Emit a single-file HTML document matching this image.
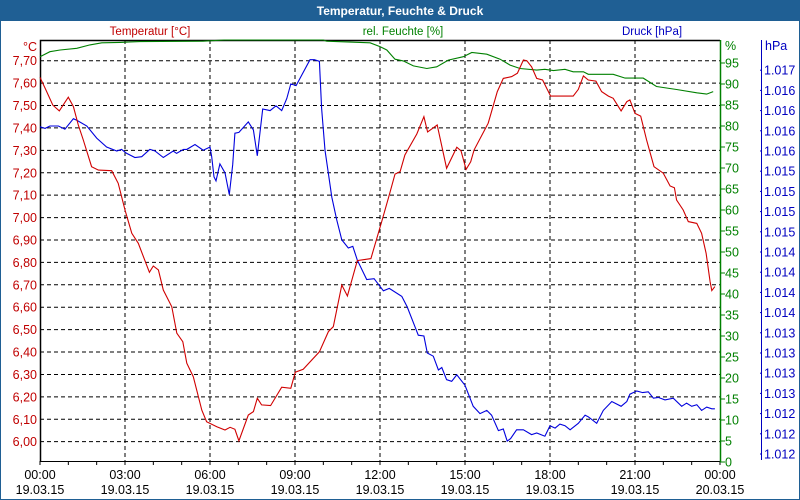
<!DOCTYPE html>
<html><head><meta charset="utf-8">
<style>
html,body{margin:0;padding:0;background:#fff;}
#wrap{position:relative;width:800px;height:500px;overflow:hidden;font-family:"Liberation Sans",sans-serif;}
svg text{font-family:"Liberation Sans",sans-serif;}
</style></head>
<body>
<div id="wrap">
<svg id="chart" width="800" height="500" viewBox="0 0 800 500">
  <rect x="0.5" y="0.5" width="799" height="499" fill="#fff" stroke="#1f5f94"/>
  <rect x="0" y="0" width="800" height="21" fill="#1f5f94"/>
  <text x="400" y="15" text-anchor="middle" fill="#fff" font-size="12" font-weight="bold">Temperatur, Feuchte &amp; Druck</text>
  <text x="150" y="35" text-anchor="middle" fill="#c00000" font-size="11.5">Temperatur [°C]</text>
  <text x="403" y="35" text-anchor="middle" fill="#008000" font-size="11.5">rel. Feuchte [%]</text>
  <text x="652" y="35" text-anchor="middle" fill="#0000c0" font-size="11.5">Druck [hPa]</text>
  <g id="grid"></g>
  <g id="axes"></g>
  <g id="series"></g>
</svg>
</div>
<script>
// ---- data ----
const tempHours=[0,.21,.45,.68,1.00,1.18,1.35,1.53,1.82,2.06,2.53,2.76,3.00,3.24,3.47,3.86,4.00,4.18,4.35,4.65,4.83,5.04,5.18,5.41,5.71,5.88,6.24,6.53,6.71,6.88,7.02,7.35,7.53,7.67,7.82,8.14,8.53,8.85,9.01,9.29,9.86,10.18,10.35,10.65,10.85,11.20,11.68,12.06,12.33,12.53,12.71,12.88,13.30,13.55,13.68,14.02,14.35,14.71,14.86,15.04,15.20,15.32,15.82,16.14,16.35,16.65,16.85,17.06,17.18,17.35,17.53,17.74,18.02,18.82,19.00,19.18,19.35,19.62,19.82,20.06,20.23,20.51,20.71,20.82,21.00,21.20,21.41,21.67,22.00,22.24,22.39,22.47,22.70,22.88,23.18,23.35,23.51,23.65,23.71,23.82];
const tempValues=[7.626,7.569,7.502,7.476,7.537,7.495,7.413,7.346,7.227,7.212,7.209,7.153,7.034,6.930,6.885,6.756,6.784,6.766,6.677,6.602,6.484,6.446,6.350,6.290,6.141,6.089,6.067,6.052,6.064,6.055,6.004,6.119,6.134,6.194,6.164,6.161,6.243,6.238,6.310,6.323,6.401,6.491,6.513,6.699,6.650,6.808,6.817,6.982,7.101,7.194,7.205,7.279,7.373,7.450,7.382,7.413,7.220,7.314,7.298,7.215,7.249,7.302,7.421,7.562,7.621,7.629,7.644,7.703,7.700,7.673,7.621,7.614,7.542,7.542,7.572,7.632,7.614,7.609,7.562,7.542,7.532,7.476,7.517,7.525,7.465,7.453,7.346,7.227,7.198,7.141,7.133,7.078,7.034,6.982,6.974,6.930,6.841,6.714,6.674,6.692];
const humHours=[0,.35,.71,1.30,1.76,2.18,2.82,3.53,5.76,6.5,10.0,10.12,11.65,12.0,12.24,12.53,12.82,13.18,13.65,14.0,14.41,14.94,15.24,15.77,16.24,16.59,16.94,17.53,17.82,18.12,18.53,18.82,19.18,19.35,20.23,20.65,21.29,21.76,22.47,23.18,23.53,23.76];
const humValues=[96.5,97.7,98.1,98.5,99.3,99.8,99.9,100.1,100.2,100.5,100.5,100.2,99.8,98.9,98.1,95.9,95.5,94.3,93.7,94.1,95.7,96.5,97.5,97.1,95.9,94.5,93.7,93.3,93.5,93.2,93.5,92.9,92.9,92.3,92.3,91.4,91.4,89.4,88.7,87.9,87.6,88.2];
const presHours=[0,.18,.35,.65,.88,1.18,1.30,1.65,2.00,2.35,2.71,2.88,3.06,3.35,3.59,3.88,4.06,4.35,4.70,4.82,5.06,5.18,5.47,5.76,6.00,6.06,6.14,6.21,6.35,6.53,6.68,6.80,6.88,7.02,7.35,7.53,7.67,7.86,8.12,8.33,8.53,8.71,8.85,9.04,9.53,9.68,9.86,9.94,10.06,10.18,10.30,10.47,10.65,10.88,11.04,11.20,11.53,11.79,12.12,12.33,12.77,12.96,13.24,13.35,13.55,13.67,13.88,14.06,14.18,14.35,14.53,14.71,15.00,15.29,15.53,15.77,15.94,16.18,16.35,16.49,16.61,16.82,17.06,17.35,17.53,17.82,18.00,18.18,18.35,18.53,18.71,19.00,19.24,19.35,19.65,19.88,20.18,20.51,20.71,20.82,21.06,21.27,21.47,21.65,21.82,22.06,22.35,22.65,22.82,23.00,23.18,23.35,23.53,23.71,23.82];
const presValues=[1016.05,1016.03,1016.06,1016.06,1016.02,1016.15,1016.13,1016.06,1015.91,1015.80,1015.75,1015.77,1015.72,1015.67,1015.68,1015.77,1015.75,1015.67,1015.75,1015.72,1015.77,1015.77,1015.83,1015.76,1015.80,1015.68,1015.43,1015.38,1015.59,1015.48,1015.21,1015.58,1015.97,1015.98,1016.11,1016.01,1015.69,1016.27,1016.25,1016.31,1016.25,1016.40,1016.58,1016.56,1016.88,1016.88,1016.86,1016.28,1015.76,1015.47,1015.18,1014.90,1014.65,1014.55,1014.57,1014.40,1014.16,1014.17,1014.02,1014.05,1013.95,1013.82,1013.57,1013.47,1013.46,1013.25,1013.21,1013.04,1013.07,1012.92,1012.90,1012.98,1012.85,1012.59,1012.50,1012.54,1012.48,1012.29,1012.31,1012.16,1012.19,1012.30,1012.30,1012.24,1012.26,1012.22,1012.35,1012.32,1012.37,1012.35,1012.30,1012.38,1012.48,1012.46,1012.38,1012.54,1012.65,1012.59,1012.65,1012.74,1012.78,1012.76,1012.77,1012.69,1012.70,1012.67,1012.69,1012.59,1012.63,1012.59,1012.61,1012.54,1012.58,1012.56,1012.56];
const tempTicks=["7,70","7,60","7,50","7,40","7,30","7,20","7,10","7,00","6,90","6,80","6,70","6,60","6,50","6,40","6,30","6,20","6,10","6,00"];
const humTicks=[95,90,85,80,75,70,65,60,55,50,45,40,35,30,25,20,15,10,5,0];
const presTickLabels=["1.017","1.016","1.016","1.016","1.016","1.015","1.015","1.015","1.015","1.014","1.014","1.014","1.014","1.013","1.013","1.013","1.013","1.012","1.012","1.012"];
const timeTicks=["00:00","03:00","06:00","09:00","12:00","15:00","18:00","21:00","00:00"];
const dateTicks=["19.03.15","19.03.15","19.03.15","19.03.15","19.03.15","19.03.15","19.03.15","19.03.15","20.03.15"];

// ---- scales ----
const L=40,R=720,T=40,B=461;
const FS=12.5;
const xS=h=>L+h*(R-L)/24;
const yT=v=>60.7+(7.70-v)*224.1;
const yH=v=>462-v*4.2;
const yP=v=>454-(v-1012)*80.8;
const NS="http://www.w3.org/2000/svg";
function mk(tag,attrs,parent){const e=document.createElementNS(NS,tag);for(const k in attrs)e.setAttribute(k,attrs[k]);parent.appendChild(e);return e;}
const grid=document.getElementById('grid'),axes=document.getElementById('axes'),series=document.getElementById('series');

tempTicks.forEach((lab,i)=>{
  const v=7.70-i*0.1, y=yT(v);
  const g=mk('line',{x1:L,x2:R,y1:y,y2:y,stroke:'#000','stroke-dasharray':'4,3','stroke-width':1},grid);
  
  
  const t=mk('text',{x:37,y:y+4.5,'text-anchor':'end',fill:'#c00000','font-size':FS},axes);
  t.textContent=lab;
  
  
});
const tu=mk('text',{x:37,y:51,'text-anchor':'end',fill:'#c00000','font-size':FS},axes);
tu.textContent='°C';



timeTicks.forEach((lab,i)=>{
  const x=xS(i*3);
  if(i>0&&i<8){
    const g=mk('line',{x1:x,x2:x,y1:T,y2:B,stroke:'#000','stroke-dasharray':'4,3','stroke-width':1},grid);
    
    
  }
  const t=mk('text',{x:x,y:479,'text-anchor':'middle',fill:'#000','font-size':FS},axes);
  t.textContent=lab;
  
  
  const d=mk('text',{x:x,y:494,'text-anchor':'middle',fill:'#000','font-size':FS},axes);
  d.textContent=dateTicks[i];
  
  
});
for(let h=0;h<=24;h++){
  const x=xS(h);
  const tk=mk('line',{x1:x,x2:x,y1:B,y2:B+4,stroke:'#000'},axes);
  
  
}

const fr=mk('path',{d:`M${L+.5},${B} L${L+.5},${T+.5} L${R},${T+.5}`,fill:'none',stroke:'#000','stroke-width':1.5},axes);


const xa=mk('line',{x1:L,x2:R,y1:B+.5,y2:B+.5,stroke:'#000','stroke-width':1},axes);


const ha=mk('line',{x1:R+.5,x2:R+.5,y1:T,y2:B+1,stroke:'#008000','stroke-width':1.5},axes);


humTicks.forEach(v=>{
  const y=yH(v);
  const tk=mk('line',{x1:R,x2:R+5,y1:y,y2:y,stroke:'#008000'},axes);
  
  
  const t=mk('text',{x:725,y:y+4.5,fill:'#008000','font-size':FS},axes);
  t.textContent=v;
  
  
});
const hu=mk('text',{x:725,y:50,fill:'#008000','font-size':FS},axes);
hu.textContent='%';



const pa=mk('line',{x1:761.5,x2:761.5,y1:40,y2:460,stroke:'#0000c0','stroke-width':1},axes);


presTickLabels.forEach((lab,i)=>{
  const v=1016.75-i*0.25, y=yP(v);
  const tk=mk('line',{x1:760,x2:762,y1:y,y2:y,stroke:'#0000c0'},axes);
  
  
  const t=mk('text',{x:764,y:y+4.5,fill:'#0000c0','font-size':FS},axes);
  t.textContent=lab;
  
  
});
const pu=mk('text',{x:765,y:50,fill:'#0000c0','font-size':FS},axes);
pu.textContent='hPa';



function line(hours,vals,ys,color,name){
  const d=hours.map((h,i)=>(i?'L':'M')+xS(h).toFixed(1)+','+Math.max(T,ys(vals[i])).toFixed(1)).join(' ');
  const p=mk('path',{d:d,fill:'none',stroke:color,'stroke-width':1.1},series);
  
  
}
line(humHours,humValues,yH,'#008000','humidity-line');
line(presHours,presValues,yP,'#0000dd','pressure-line');
line(tempHours,tempValues,yT,'#d00000','temperature-line');
</script>
</body></html>
